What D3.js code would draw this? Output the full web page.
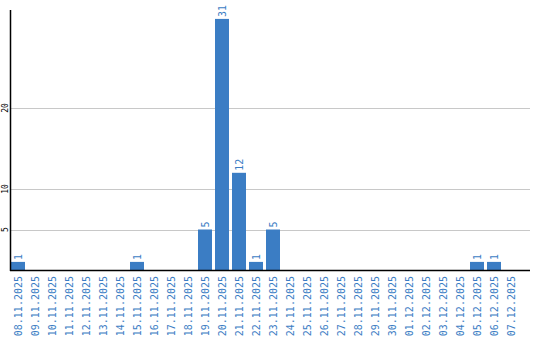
<!DOCTYPE html>
<html>
<head>
<meta charset="utf-8">
<script src="https://cdn.jsdelivr.net/npm/d3@7"></script>
<style>
  body { margin: 0; background: #fff; }
  text { font-family: "DejaVu Sans Mono", monospace; }
</style>
</head>
<body>
<div id="chart"></div>
<script>
const dates = ["08.11.2025", "09.11.2025", "10.11.2025", "11.11.2025", "12.11.2025",
  "13.11.2025", "14.11.2025", "15.11.2025", "16.11.2025", "17.11.2025", "18.11.2025",
  "19.11.2025", "20.11.2025", "21.11.2025", "22.11.2025", "23.11.2025", "24.11.2025",
  "25.11.2025", "26.11.2025", "27.11.2025", "28.11.2025", "29.11.2025", "30.11.2025",
  "01.12.2025", "02.12.2025", "03.12.2025", "04.12.2025", "05.12.2025", "06.12.2025",
  "07.12.2025"];
const counts = [1, 0, 0, 0, 0, 0, 0, 1, 0, 0, 0, 5, 31, 12, 1, 5, 0, 0, 0, 0, 0, 0, 0,
  0, 0, 0, 0, 1, 1, 0];
const yTicks = [5, 10, 20];

const chartW = 540, chartH = 340;
const plotLeft = 10, plotRight = 530, plotTop = 10, plotBase = 270;
const blue = "#3b7dc4";

const svg = d3.select("#chart").append("svg")
    .attr("width", chartW)
    .attr("height", chartH);

const yScale = d3.scaleLinear()
    .domain([0, 32.1])
    .range([plotBase, plotTop]);

const xScale = d3.scaleBand()
    .domain(dates)
    .range([plotLeft + 1, plotRight - 12])
    .paddingInner(3 / 17)
    .paddingOuter(0);

// grid lines
svg.append("g")
    .selectAll("line")
    .data(yTicks)
    .join("line")
    .attr("x1", plotLeft)
    .attr("x2", plotRight)
    .attr("y1", d => Math.round(yScale(d)) + 0.5)
    .attr("y2", d => Math.round(yScale(d)) + 0.5)
    .attr("stroke", "#c8c8c8")
    .attr("stroke-width", 1);

// y tick labels
svg.append("g")
    .selectAll("text")
    .data(yTicks)
    .join("text")
    .attr("transform", d => `translate(8,${yScale(d)}) rotate(-90)`)
    .attr("text-anchor", "middle")
    .attr("font-size", 8)
    .attr("fill", "#000")
    .text(d => d);

// bars
const data = dates.map((d, i) => ({date: d, value: counts[i]}));
const nonZero = data.filter(d => d.value > 0);

svg.append("g")
    .selectAll("rect")
    .data(nonZero)
    .join("rect")
    .attr("x", d => xScale(d.date))
    .attr("y", d => yScale(d.value))
    .attr("width", xScale.bandwidth())
    .attr("height", d => yScale(0) - yScale(d.value))
    .attr("fill", blue);

// value labels
svg.append("g")
    .selectAll("text")
    .data(nonZero)
    .join("text")
    .attr("transform", d => `translate(${xScale(d.date) + xScale.bandwidth() / 2 + 4},${yScale(d.value) - 2}) rotate(-90)`)
    .attr("font-size", 10)
    .attr("fill", blue)
    .text(d => d.value);

// axes lines
svg.append("line")
    .attr("x1", plotLeft + 0.5).attr("x2", plotLeft + 0.5)
    .attr("y1", plotTop).attr("y2", plotBase + 1)
    .attr("stroke", "#000").attr("stroke-width", 1.5);
svg.append("line")
    .attr("x1", plotLeft).attr("x2", plotRight)
    .attr("y1", plotBase + 0.5).attr("y2", plotBase + 0.5)
    .attr("stroke", "#000").attr("stroke-width", 1.5);

// x labels
svg.append("g")
    .selectAll("text")
    .data(dates)
    .join("text")
    .attr("transform", d => `translate(${xScale(d) + xScale.bandwidth() / 2 + 4},${plotBase + 6}) rotate(-90)`)
    .attr("text-anchor", "end")
    .attr("font-size", 10)
    .attr("fill", blue)
    .text(d => d);
</script>
</body>
</html>
